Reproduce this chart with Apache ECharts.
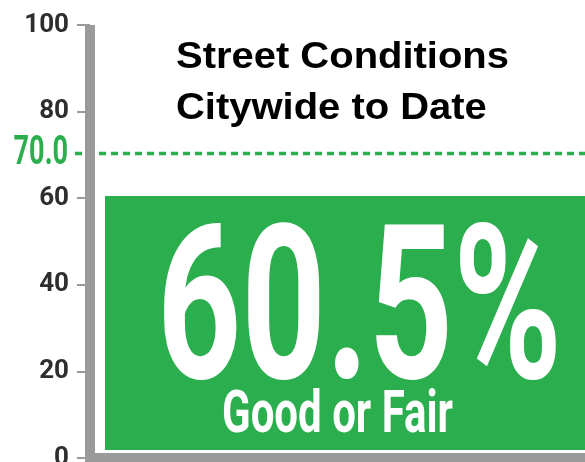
<!DOCTYPE html>
<html><head><meta charset="utf-8">
<script src="https://cdn.jsdelivr.net/npm/echarts@6/dist/echarts.min.js"></script>
<style>html,body{margin:0;padding:0;background:#fff}#c{width:585px;height:462px}</style>
</head><body><div id="c"></div>
<script>
const categories = ['Citywide'];
const values = [60.5];
const targetValues = [70.0];
const yTicks = [0, 20, 40, 60, 80, 100];
const titleLines = ['Street Conditions', 'Citywide to Date'];
const captions = ['Good or Fair'];

const GREEN = '#2aae4e';
const GRAY = '#9a9a9a';
const COND = 'Roboto, "DejaVu Sans Condensed", sans-serif';

const chart = echarts.init(document.getElementById('c'));
chart.setOption({
  backgroundColor: '#ffffff',
  animation: false,
  graphic: [{
    type: 'text', left: 176, top: 32, scaleX: 1.08, z: 10,
    style: { text: titleLines.join('\n'), fill: '#000', fontFamily: '"Liberation Sans", Arial, sans-serif', fontWeight: 'bold', fontSize: 37, lineHeight: 51 }
  }],
  grid: { left: 90, right: 0, top: 25, bottom: 4, outerBoundsMode: 'none', containLabel: false },
  xAxis: {
    type: 'category', data: categories,
    axisLine: { show: true, lineStyle: { color: GRAY, width: 10, cap: 'square' } },
    axisTick: { show: false }, axisLabel: { show: false }, splitLine: { show: false }
  },
  yAxis: {
    type: 'value', min: yTicks[0], max: yTicks[yTicks.length - 1], interval: yTicks[1] - yTicks[0],
    axisLine: { show: true, lineStyle: { color: GRAY, width: 10, cap: 'butt' } },
    axisTick: { show: true, length: 13, lineStyle: { color: GRAY, width: 2 } },
    axisLabel: { margin: 21, fontFamily: COND, fontWeight: 'bold', fontSize: 26, color: '#2e2e2e' },
    splitLine: { show: false }
  },
  series: [
    {
      type: 'custom',
      data: categories.map((c, i) => [i, values[i]]),
      z: 2,
      renderItem: function (params, api) {
        const top = api.coord([api.value(0), api.value(1)]);
        const base = api.coord([api.value(0), 0]);
        const bw = api.size([1, 0])[0];
        const bandLeft = top[0] - bw / 2;
        const v = api.value(1);
        return {
          type: 'group',
          children: [
            { type: 'rect', shape: { x: bandLeft + 15, y: top[1], width: bw, height: base[1] - top[1] - 8 }, style: { fill: GREEN } },
            { type: 'text', x: top[0] + 22, y: top[1] + 128, scaleX: 0.685,
              style: { text: v.toFixed(1) + '%', fill: '#fff', fontFamily: COND, fontWeight: 'bold', fontSize: 215, align: 'center', verticalAlign: 'middle' } },
            { type: 'text', x: top[0], y: top[1] + 221, scaleX: 0.7,
              style: { text: captions[params.dataIndex], fill: '#fff', fontFamily: COND, fontWeight: 'bold', fontSize: 60, align: 'center', verticalAlign: 'middle' } }
          ]
        };
      }
    },
    {
      type: 'custom',
      data: targetValues.map(t => [0, t]),
      z: -1,
      clip: false,
      renderItem: function (params, api) {
        const p = api.coord([0, api.value(1)]);
        const bw = api.size([1, 0])[0];
        const left = p[0] - bw / 2;
        return {
          type: 'group',
          children: [
            { type: 'line', shape: { x1: left - 15, y1: p[1] - 1.5, x2: left + bw + 10, y2: p[1] - 1.5 },
              style: { stroke: GREEN, lineWidth: 3.5, lineDash: [7, 5] } },
            { type: 'text', x: left - 22, y: p[1] - 1, scaleX: 0.66,
              style: { text: api.value(1).toFixed(1), fill: GREEN, fontFamily: COND, fontWeight: 'bold', fontSize: 41, align: 'right', verticalAlign: 'middle' } }
          ]
        };
      }
    }
  ]
});
</script></body></html>
